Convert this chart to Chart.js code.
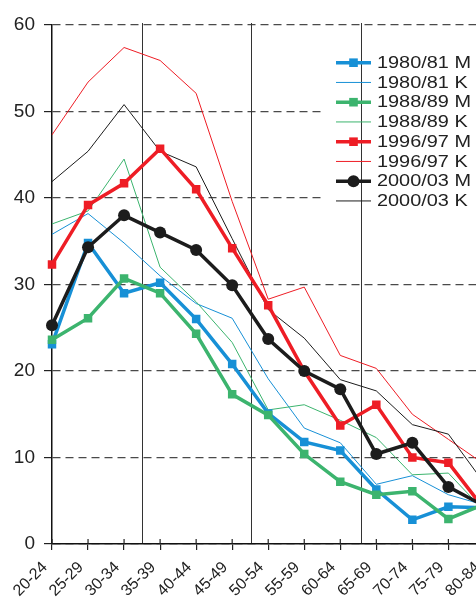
<!DOCTYPE html>
<html><head><meta charset="utf-8">
<script src="https://cdn.jsdelivr.net/npm/chart.js@4.4.1/dist/chart.umd.min.js"></script>
<style>
html,body{margin:0;padding:0;overflow:hidden;background:#fff;width:476px;height:600px}
#wrap{position:absolute;left:0;top:0;width:506px;height:600px}
</style></head><body>
<div id="wrap"><canvas id="c"></canvas></div>
<script>
// ---- data ----
const categories = ['20-24','25-29','30-34','35-39','40-44','45-49','50-54','55-59','60-64','65-69','70-74','75-79','80-84'];
const m1980 = [23.1, 34.8, 29.0, 30.2, 26.0, 20.8, 15.1, 11.8, 10.8, 6.3, 2.8, 4.3, 4.2];
const k1980 = [35.8, 38.2, 34.8, 31.0, 27.8, 26.1, 19.1, 13.4, 11.7, 6.9, 7.9, 5.7, 4.5];
const m1988 = [23.6, 26.1, 30.7, 29.0, 24.3, 17.3, 14.9, 10.4, 7.2, 5.7, 6.1, 2.9, 4.6];
const k1988 = [37.0, 38.5, 44.5, 32.0, 28.0, 23.3, 15.5, 16.1, 14.3, 12.3, 8.0, 8.2, 3.8];
const m1996 = [32.3, 39.2, 41.7, 45.7, 41.0, 34.2, 27.6, 20.0, 13.7, 16.1, 10.0, 9.4, 4.0];
const k1996 = [47.3, 53.4, 57.4, 55.9, 52.1, 39.6, 28.3, 29.7, 21.8, 20.3, 15.0, 12.1, 9.2];
const m2000 = [25.3, 34.3, 38.0, 36.0, 34.0, 29.9, 23.7, 20.0, 17.9, 10.4, 11.7, 6.6, 4.4];
const k2000 = [41.9, 45.4, 50.8, 45.4, 43.6, 35.3, 27.1, 23.8, 19.0, 17.7, 13.8, 12.7, 7.0];
const seriesLabels = ['1980/81 M','1980/81 K','1988/89 M','1988/89 K','1996/97 M','1996/97 K','2000/03 M','2000/03 K'];
const yTicks = [0, 10, 20, 30, 40, 50, 60];
const vLinePositions = [2.49, 5.53, 8.58]; // in category-index units

const blue = '#1790d6', green = '#3cb46e', red = '#ee1d25', black = '#1c1c1c';
const FONT = '"Liberation Sans", Arial, Helvetica, sans-serif';

function mSet(label, data, color, style, order) {
  return { label, data, borderColor: color, backgroundColor: color, borderWidth: 3.5,
    pointStyle: style, pointRadius: 6, pointBorderWidth: 0,
    pointHoverRadius: 6, order, tension: 0, isM: true };
}
function kSet(label, data, color, order) {
  return { label, data, borderColor: color, backgroundColor: color, borderWidth: 1,
    pointRadius: 0, pointHoverRadius: 0, order, tension: 0, isM: false };
}

const datasets = [
  mSet(seriesLabels[0], m1980, blue, 'rect', 3),
  kSet(seriesLabels[1], k1980, blue, 7),
  mSet(seriesLabels[2], m1988, green, 'rect', 2),
  kSet(seriesLabels[3], k1988, green, 6),
  mSet(seriesLabels[4], m1996, red, 'rect', 1),
  kSet(seriesLabels[5], k1996, red, 5),
  mSet(seriesLabels[6], m2000, black, 'circle', 0),
  kSet(seriesLabels[7], k2000, black, 4),
];

const decor = {
  id: 'decor',
  beforeDatasetsDraw(chart) {
    const ctx = chart.ctx, ca = chart.chartArea, xs = chart.scales.x;
    ctx.save();
    // legend background (hides gridlines)
    ctx.fillStyle = '#fff';
    ctx.fillRect(322, 50, 200, 162);
    // vertical reference lines
    ctx.strokeStyle = '#333';
    ctx.lineWidth = 1;
    vLinePositions.forEach(v => {
      const x = Math.round(xs.getPixelForValue(v)) + 0.5;
      ctx.beginPath(); ctx.moveTo(x, ca.top - 2); ctx.lineTo(x, ca.bottom - 1); ctx.stroke();
    });
    // small tick marks above the x axis
    ctx.strokeStyle = '#222'; ctx.lineWidth = 1.2;
    categories.forEach((c, i) => {
      const x = xs.getPixelForValue(i);
      ctx.beginPath(); ctx.moveTo(x, ca.bottom - 5); ctx.lineTo(x, ca.bottom); ctx.stroke();
    });
    ctx.restore();
  },
  afterDatasetsDraw(chart) {
    const ctx = chart.ctx;
    const x0 = 336, x1 = 371, xt = 377, y0 = 62.7, dy = 19.75;
    ctx.save();
    chart.data.datasets.forEach((ds, i) => {
      const y = y0 + i * dy;
      ctx.strokeStyle = ds.borderColor;
      ctx.lineWidth = ds.borderWidth;
      ctx.beginPath(); ctx.moveTo(x0, y); ctx.lineTo(x1, y); ctx.stroke();
      if (ds.isM) {
        ctx.fillStyle = ds.borderColor;
        const cx = (x0 + x1) / 2;
        if (ds.pointStyle === 'circle') {
          ctx.beginPath(); ctx.arc(cx, y, 6, 0, Math.PI * 2); ctx.fill();
        } else {
          ctx.fillRect(cx - 4.3, y - 4.3, 8.6, 8.6);
        }
      }
      ctx.fillStyle = '#222';
      ctx.font = '17px ' + FONT;
      ctx.textBaseline = 'middle';
      ctx.textAlign = 'left';
      ctx.save();
      ctx.translate(xt, y + 0.5);
      ctx.scale(1.17, 1);
      ctx.fillText(ds.label, 0, 0);
      ctx.restore();
    });
    ctx.restore();
  }
};

new Chart(document.getElementById('c'), {
  type: 'line',
  data: { labels: categories, datasets },
  options: {
    responsive: true, maintainAspectRatio: false, animation: false,
    layout: { padding: { top: 25, right: 0, left: 0, bottom: 0 } },
    plugins: { legend: { display: false }, tooltip: { enabled: false } },
    elements: { line: { borderJoinStyle: 'miter' } },
    scales: {
      x: {
        type: 'category', offset: false,
        grid: { drawOnChartArea: false, drawTicks: true, tickLength: 6, color: '#222', lineWidth: 1.2 },
        border: { display: true, color: '#111', width: 1.5 },
        ticks: { autoSkip: false, minRotation: 45, maxRotation: 45, padding: 8, labelOffset: -7, color: '#222',
          font: { size: 16, family: FONT } },
        afterFit(s) { s.height = 56; }
      },
      y: {
        min: 0, max: 60,
        afterBuildTicks(s) { s.ticks = yTicks.map(v => ({ value: v })); },
        grid: { color: '#4a4a4a', lineWidth: 1.2, tickLength: 8, tickColor: '#222', drawTicks: true },
        border: { display: true, color: '#111', width: 1.5, dash: [8, 5] },
        ticks: { padding: 9, color: '#222', font: { size: 19, family: FONT } },
        afterFit(s) { s.width = 52; }
      }
    }
  },
  plugins: [decor]
});
</script>
</body></html>
